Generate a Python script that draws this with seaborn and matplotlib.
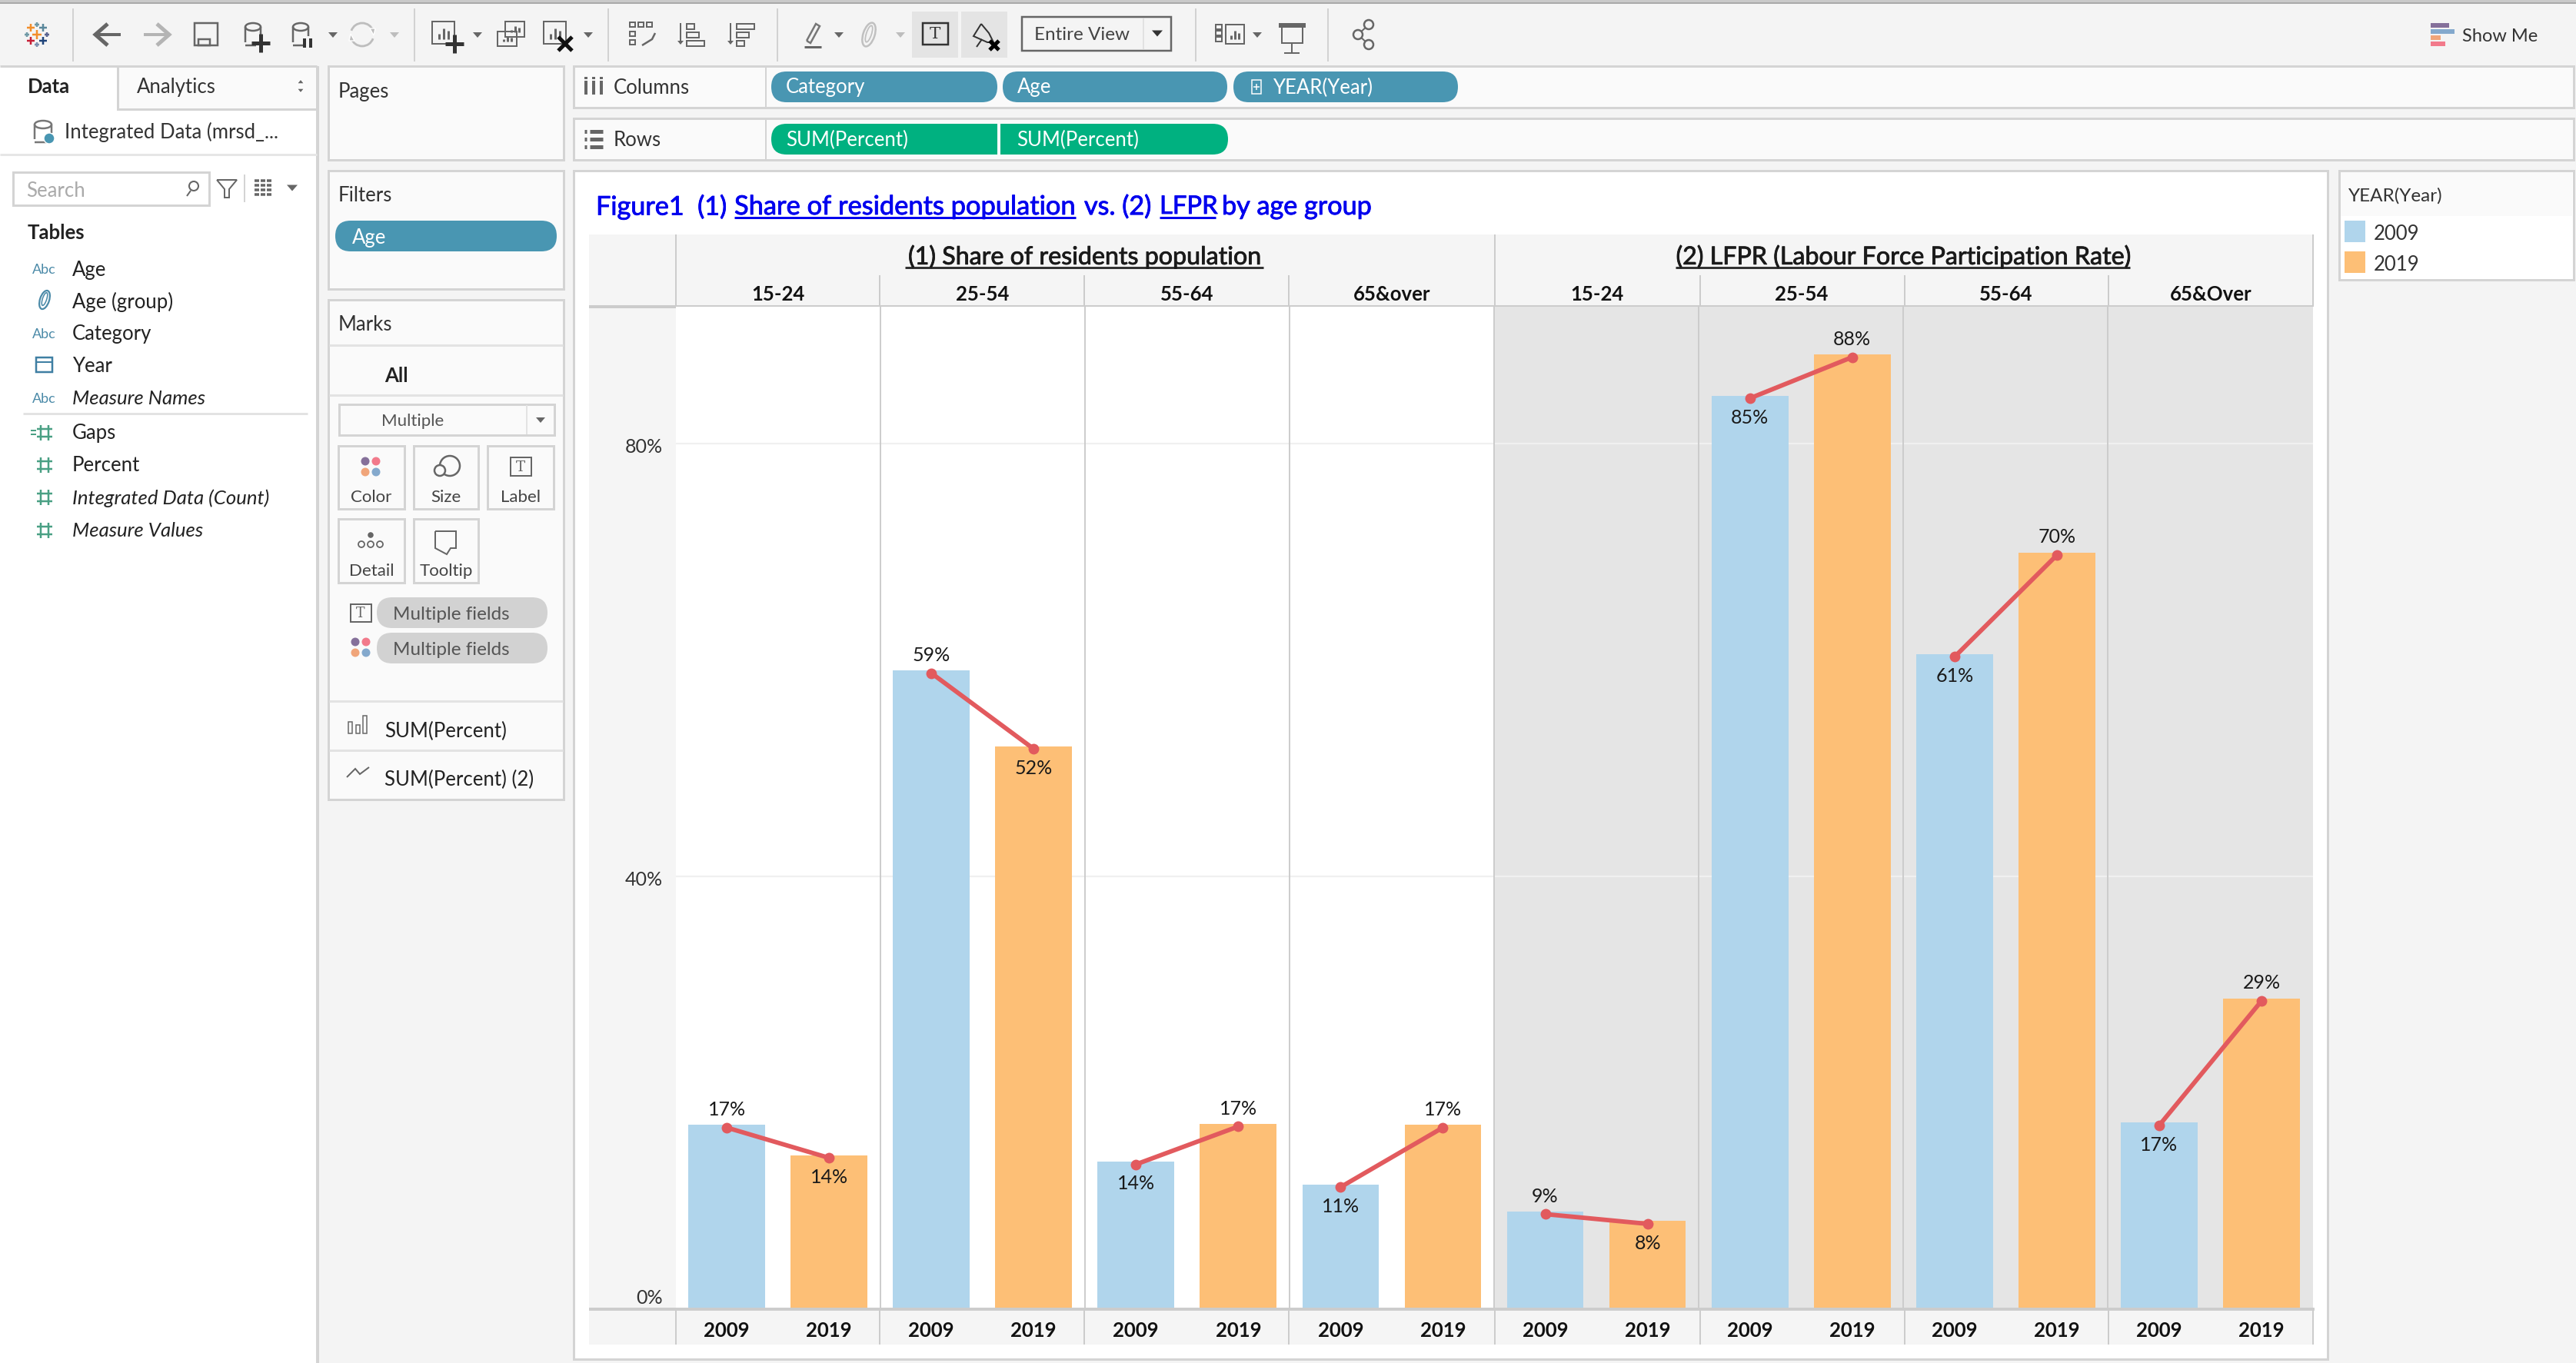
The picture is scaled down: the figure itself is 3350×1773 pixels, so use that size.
import pandas as pd
import matplotlib
matplotlib.use("Agg")
import matplotlib.pyplot as plt
import matplotlib.patheffects as pe
import seaborn as sns
from matplotlib.patches import Rectangle, FancyBboxPatch, Circle, Ellipse, Polygon, Arc
from matplotlib.transforms import ScaledTranslation

# Data
CATEGORIES = ["(1) Share of residents population", "(2) LFPR (Labour Force Participation Rate)"]
AGES_LEFT = ["15-24", "25-54", "55-64", "65&over"]
AGES_RIGHT = ["15-24", "25-54", "55-64", "65&Over"]
YEARS = ["2009", "2019"]
VALUES_2009 = [17.0, 59.0, 13.6, 11.5, 9.0, 84.4, 60.5, 17.2]
VALUES_2019 = [14.2, 52.0, 17.1, 17.0, 8.1, 88.2, 69.9, 28.7]
LABELS_2009 = ["17%", "59%", "14%", "11%", "9%", "85%", "61%", "17%"]
LABELS_2019 = ["14%", "52%", "17%", "17%", "8%", "88%", "70%", "29%"]
Y_TICKS = [0, 40, 80]
Y_TICK_LABELS = ["0%", "40%", "80%"]

FIELDS_TOP = ["Age", "Age (group)", "Category", "Year", "Measure Names"]
FIELDS_BOTTOM = ["Gaps", "Percent", "Integrated Data (Count)", "Measure Values"]

BLUE = "#b0d5ec"
ORANGE = "#fdbf76"
RED = "#e25a5e"
TEAL = "#4996b2"
GREEN = "#00b180"
BORDER = "#d4d4d4"
PANEL = "#fafafa"
TOOLBAR = "#f4f4f4"
ICON = "#666666"
LINK = "#0000ee"
FONT = "Lato"

sns.set_theme(style="white")
plt.rcParams["font.family"] = [FONT, "DejaVu Sans"]

W, H = 3350, 1774
RIGHT = 3347
fig = plt.figure(figsize=(W / 100, H / 100), dpi=100, facecolor=TOOLBAR)

# pixel canvas for the surrounding Tableau window
bg = fig.add_axes([0, 0, 1, 1], zorder=0)
bg.set_xlim(0, W)
bg.set_ylim(H, 0)
bg.axis("off")


def rect(x0, y0, x1, y1, fc="none", ec="none", lw=0, z=1):
    bg.add_patch(Rectangle((x0, y0), x1 - x0, y1 - y0, fc=fc, ec=ec, lw=lw * 0.72, zorder=z))


def line(xs, ys, color=ICON, lw=3, z=3):
    bg.plot(xs, ys, color=color, lw=lw * 0.72, zorder=z, solid_capstyle="butt", solid_joinstyle="miter")


def label(x, y, s, size=18.5, color="#333333", ha="left", **kw):
    return bg.text(x, y + 2, s, fontsize=size, color=color, ha=ha, va="center", zorder=5, **kw)


def heavy_label(x, y, s, size, color, ha="left"):
    t = label(x, y, s, size=size, color=color, ha=ha)
    t.set_path_effects([pe.withStroke(linewidth=0.6, foreground=color)])


def pill(x0, y0, x1, y1, color, r=20):
    bg.add_patch(FancyBboxPatch((x0, y0), x1 - x0, y1 - y0, boxstyle=f"round,pad=0,rounding_size={r}",
                                fc=color, ec="none", zorder=2))


def arrow_down(x, y, color=ICON, s=6):
    bg.add_patch(Polygon([(x - s, y - s / 2), (x + s, y - s / 2), (x, y + s / 2 + 1)], fc=color, ec="none", zorder=3))


def plus(x, y, s, color, lw=3):
    line([x - s, x + s], [y, y], color, lw)
    line([x, x], [y - s, y + s], color, lw)


def cross(x, y, s, color="#111111", lw=5):
    line([x - s, x + s], [y - s, y + s], color, lw, 4)
    line([x - s, x + s], [y + s, y - s], color, lw, 4)


def dots(x, y, r=5.5, gap=7):
    for dx, dy, c in [(-gap, -gap, "#85709a"), (gap, -gap, "#f27a8b"), (-gap, gap, "#f0a57a"), (gap, gap, "#84a9cd")]:
        bg.add_patch(Circle((x + dx, y + dy), r, fc=c, ec="none", zorder=3))


def hash_icon(x, y):
    for d in (-5, 5):
        line([x + d, x + d], [y - 10, y + 10], "#4aa084", 2.5)
        line([x - 10, x + 10], [y + d, y + d], "#4aa084", 2.5)


def t_box(x, y, w, h, color=ICON, lw=2):
    rect(x - w / 2, y - h / 2, x + w / 2, y + h / 2, ec=color, lw=lw, z=3)
    bg.text(x, y, "T", fontsize=h * 0.55, color=color, family="DejaVu Serif", ha="center", va="center", zorder=4)


def database(x0, x1, y0, y1, color=ICON):
    line([x0, x0], [y0 + 5, y1 - 4], color, 2.5)
    line([x1, x1], [y0 + 5, y1 - 12], color, 2.5)
    bg.add_patch(Ellipse(((x0 + x1) / 2, y0 + 5), x1 - x0, 10, fc="none", ec=color, lw=1.8, zorder=3))
    line([x0, x1 - 6], [y1, y1], color, 2.5)


def mini_bars(x0, y0, x1, y1, color=ICON):
    rect(x0, y0, x1, y1, ec=color, lw=2, z=3)
    for dx, top in [(0.3, 0.55), (0.5, 0.3), (0.72, 0.42)]:
        line([x0 + dx * (x1 - x0)] * 2, [y1 - 6, y0 + top * (y1 - y0)], color, 3)


def paperclip(x, y, w, h, color, lw=1.8):
    bg.add_patch(Ellipse((x, y), w, h, angle=18, fc="none", ec=color, lw=lw, zorder=3))
    bg.add_patch(Ellipse((x, y - 1), w * 0.45, h * 0.7, angle=18, fc="none", ec=color, lw=lw * 0.7, zorder=3))


# ---- toolbar ----
rect(0, 0, W, 4, fc="#c9c9c9")
rect(0, 4, W, 6, fc="#a9a9a9")
for sx in [95, 539, 791, 1011, 1555, 1727]:
    line([sx, sx], [12, 81], "#d2d2d2", 2)

logo = [(48, 46, 6, "#f28e2b"), (40, 37, 5, "#f28e2b"), (56, 37, 5, "#59879b"), (40, 54, 5, "#c72037"),
        (56, 54, 5, "#1f447a"), (48, 33, 3, "#7099a6"), (48, 59, 3, "#7c8fb0"), (35, 46, 3, "#7099a6"), (61, 46, 3, "#5b6591")]
for lx, ly, ls, lc in logo:
    plus(lx, ly, ls, lc, 2.5)

line([140, 124, 140], [32, 46, 60], ICON, 5)
line([124, 157], [46, 46], ICON, 4)
line([204, 220, 204], [32, 46, 60], "#b4b4b4", 5)
line([187, 220], [46, 46], "#b4b4b4", 4)
rect(253, 31, 283, 60, ec=ICON, lw=2.5, z=3)
rect(258, 52, 273, 60, ec=ICON, lw=2.5, z=3)
database(319, 339, 31, 60)
plus(339, 57, 12, "#333333", 5)
database(381, 401, 31, 60)
line([396, 396], [51, 63], "#333333", 4)
line([404, 404], [51, 63], "#333333", 4)
arrow_down(433, 46)
bg.add_patch(Arc((471, 46), 30, 30, theta1=200, theta2=340, ec="#bdbdbd", lw=2, zorder=3))
bg.add_patch(Arc((471, 46), 30, 30, theta1=20, theta2=160, ec="#bdbdbd", lw=2, zorder=3))
bg.add_patch(Polygon([(481, 38), (488, 38), (486, 47)], fc="#bdbdbd", zorder=3))
bg.add_patch(Polygon([(454, 54), (461, 54), (456, 45)], fc="#bdbdbd", zorder=3))
arrow_down(513, 46, "#bdbdbd")

mini_bars(562, 29, 591, 58)
plus(591, 58, 12, "#333333", 5)
arrow_down(621, 46)
mini_bars(657, 29, 682, 49)
mini_bars(647, 42, 672, 61)
mini_bars(707, 29, 736, 58)
cross(735, 58, 9)
arrow_down(765, 46)
for gx, gy in [(822, 33), (833, 33), (844, 33), (822, 45), (822, 56)]:
    rect(gx - 3, gy - 3, gx + 4, gy + 3, ec=ICON, lw=2, z=3)
line([852, 848, 835], [44, 52, 60], ICON, 2.5)
for ox, widths in [(893, [10, 16, 23]), (958, [23, 16, 10])]:
    line([ox - 8, ox - 8], [31, 58], ICON, 2)
    arrow_down(ox - 8, 56, ICON, 4)
    for i, bar_w in enumerate(widths):
        rect(ox, 32 + i * 11, ox + bar_w, 39 + i * 11, ec=ICON, lw=2, z=3)
line([1049, 1061, 1066, 1054, 1049], [54, 32, 35, 57, 54], "#777777", 2.5)
line([1046, 1068], [62, 62], ICON, 3)
arrow_down(1091, 46)
paperclip(1130, 46, 15, 32, "#c0c0c0")
arrow_down(1171, 46, "#bdbdbd")
rect(1186, 16, 1246, 76, fc="#e4e4e4")
rect(1250, 16, 1310, 76, fc="#e4e4e4")
t_box(1216, 45, 33, 28, "#333333", 2.5)
line([1276, 1286, 1292, 1284, 1266, 1276], [32, 44, 56, 56, 48, 32], "#333333", 2)
line([1270, 1277], [62, 52], "#333333", 2)
cross(1293, 60, 6, "#000000", 5)
rect(1329, 23, 1523, 67, fc=TOOLBAR, ec=ICON, lw=2.5, z=2)
line([1487, 1487], [25, 65], "#dddddd", 1.5)
label(1345, 43, "Entire View", size=17.5, color="#444444")
arrow_down(1505, 44, "#333333", 7)
for fy in (36, 44, 52):
    rect(1581, fy - 3, 1589, fy + 3, ec=ICON, lw=2, z=3)
mini_bars(1594, 33, 1618, 58)
arrow_down(1635, 46)
line([1663, 1698], [34, 34], ICON, 6)
rect(1667, 34, 1694, 57, ec=ICON, lw=2, z=3)
line([1680, 1680], [57, 70], ICON, 2)
line([1670, 1690], [70, 70], ICON, 2)
for px_, py_ in [(1766, 46), (1780, 33), (1780, 59)]:
    bg.add_patch(Circle((px_, py_), 6, fc=TOOLBAR, ec=ICON, lw=1.8, zorder=4))
line([1780, 1766, 1780], [33, 46, 59], ICON, 2)
for sy, sw, sc in [(31, 24, "#85709a"), (39, 31, "#84a9cd"), (47, 13, "#f0a57a"), (55, 19, "#f27a8b")]:
    rect(3161, sy, 3161 + sw, sy + 6, fc=sc)
label(3202, 46, "Show Me", size=17, color="#333333")

# ---- data pane ----
rect(0, 87, 412, H, fc="white")
line([413, 413], [87, H], BORDER, 4)
rect(153, 87, 412, 143, fc=PANEL)
line([153, 153, 412], [87, 143, 143], BORDER, 3)
line([0, 412], [87, 87], BORDER, 3)
label(36, 111, "Data", weight="bold", color="#222222")
label(178, 112, "Analytics")
bg.add_patch(Polygon([(386, 110), (396, 110), (391, 104)], fc=ICON, zorder=3))
bg.add_patch(Polygon([(386, 116), (396, 116), (391, 122)], fc=ICON, zorder=3))
database(45, 67, 158, 186, "#777777")
bg.add_patch(Circle((64, 181), 7, fc=TEAL, zorder=4))
label(84, 170, "Integrated Data (mrsd_...")
line([0, 412], [202, 202], "#e6e6e6", 3)
rect(17, 225, 272, 268, fc="white", ec=BORDER, lw=3)
label(34, 246, "Search", color="#aaaaaa")
bg.add_patch(Circle((252, 243), 6, fc="none", ec=ICON, lw=1.5, zorder=3))
line([248, 243], [249, 256], ICON, 2)
line([282, 308, 298, 298, 292, 292, 282], [235, 235, 247, 258, 258, 247, 235], ICON, 2)
line([318, 318], [228, 264], BORDER, 2)
for gy in (236, 242, 248, 254):
    for gx in (331, 339, 347):
        line([gx, gx + 6], [gy, gy], ICON, 3.5)
arrow_down(380, 245, ICON, 7)
label(36, 301, "Tables", weight="bold", color="#222222")

field_y = [349, 391, 433, 475, 517]
for fy, name in zip(field_y, FIELDS_TOP):
    label(94, fy, name, style="italic" if name == "Measure Names" else "normal", color="#222222")
for fy in (349, 433, 517):
    label(57, fy, "Abc", size=13, color="#4b8aa8", ha="center")
paperclip(58, 391, 12, 25, "#4b8aa8", 1.6)
rect(47, 466, 68, 485, ec="#3f7fa3", lw=2.5, z=3)
line([47, 68], [472, 472], "#3f7fa3", 2)
line([30, 400], [539, 539], "#e3e3e3", 3)
field_y2 = [563, 605, 647, 690]
for fy, name in zip(field_y2, FIELDS_BOTTOM):
    label(94, fy - 1, name, style="italic" if name in FIELDS_BOTTOM[2:] else "normal", color="#222222")
    hash_icon(58, fy + 1)
line([40, 47], [561, 561], "#4aa084", 2)
line([40, 47], [566, 566], "#4aa084", 2)

# ---- pages, filters, marks cards ----
for y0, y1 in [(87, 209), (223, 377), (391, 1041)]:
    rect(427, y0, 733, y1, fc=PANEL, ec=BORDER, lw=3)
label(440, 118, "Pages")
label(440, 253, "Filters")
pill(436, 288, 724, 328, TEAL)
label(458, 308, "Age", color="white")
label(440, 421, "Marks")
for sy in (450, 515, 913, 977):
    line([428, 732], [sy, sy], "#e3e3e3", 3)
label(515, 487, "All", weight="bold", ha="center", color="#222222")
rect(441, 527, 721, 567, fc=PANEL, ec=BORDER, lw=3, z=2)
line([685, 685], [528, 566], "#e3e3e3", 2)
label(537, 546, "Multiple", size=16, color="#555555", ha="center")
arrow_down(703, 547, ICON, 6)
for bx0, bx1, by0, by1, name in [(440, 526, 581, 663, "Color"), (538, 622, 581, 663, "Size"), (634, 720, 581, 663, "Label"),
                                 (440, 526, 676, 759, "Detail"), (538, 622, 676, 759, "Tooltip")]:
    rect(bx0, by0, bx1, by1, ec=BORDER, lw=3, z=2)
    label((bx0 + bx1) / 2, by1 - 18, name, size=16, color="#444444", ha="center")
dots(482, 608)
bg.add_patch(Circle((585, 607), 13, fc="none", ec=ICON, lw=1.8, zorder=3))
bg.add_patch(Circle((572, 613), 7, fc=PANEL, ec=ICON, lw=1.8, zorder=4))
t_box(677, 608, 27, 24)
bg.add_patch(Circle((482, 697), 4.5, fc=ICON, zorder=3))
for dx in (-12, 0, 12):
    bg.add_patch(Circle((482 + dx, 709), 4, fc="none", ec=ICON, lw=1.3, zorder=3))
line([566, 593, 593, 586, 581, 566, 566], [692, 692, 714, 714, 722, 714, 692], ICON, 2)
t_box(469, 798, 27, 23)
dots(469, 843, 5.5, 7)
pill(490, 778, 712, 818, "#d2d2d2")
pill(490, 824, 712, 864, "#d2d2d2")
label(511, 798, "Multiple fields", size=17.5, color="#555555")
label(511, 844, "Multiple fields", size=17.5, color="#555555")
for bx, top in [(455, 940), (465, 944), (474, 932)]:
    rect(bx - 2.5, top, bx + 2.5, 955, ec=ICON, lw=1.5, z=3)
line([451, 462, 468, 480], [1012, 1001, 1008, 999], ICON, 2)
label(500, 949, "SUM(Percent)", color="#222222")
label(500, 1012, "SUM(Percent) (2)", color="#222222")

# ---- shelves ----
for y0, y1, name in [(87, 141, "Columns"), (155, 209, "Rows")]:
    rect(746, y0, RIGHT, y1, fc=PANEL, ec=BORDER, lw=3)
    line([996, 996], [y0, y1], BORDER, 2)
    label(798, (y0 + y1) / 2 - 1, name)
for dx in (762, 772, 782):
    line([dx, dx], [106, 124], ICON, 4)
    line([dx, dx], [101, 104], ICON, 4)
for ry in (172, 182, 192):
    line([760, 763], [ry, ry], ICON, 5)
    line([767, 784], [ry, ry], ICON, 5)
for px0, px1, name in [(1003, 1297, "Category"), (1304, 1596, "Age"), (1604, 1896, "YEAR(Year)")]:
    pill(px0, 94, px1, 134, TEAL)
    label(1655 if name.startswith("YEAR") else px0 + 19, 112, name, color="white")
rect(1628, 105, 1640, 123, ec="white", lw=1.5, z=3)
plus(1634, 114, 4, "white", 1.5)
pill(1003, 162, 1320, 202, GREEN)
pill(1280, 162, 1597, 202, GREEN)
rect(1297, 160, 1301, 204, fc=PANEL, z=3)
label(1022, 180, "SUM(Percent)", color="white")
label(1322, 180, "SUM(Percent)", color="white")

# ---- chart card, title and header rows ----
rect(746, 223, 3027, 1769, fc="white", ec=BORDER, lw=3)
heavy_label(775, 268, "Figure1  (1)", 24.6, LINK)
heavy_label(955, 268, "Share of residents population", 24.8, LINK)
heavy_label(1410, 268, "vs. (2)", 24.6, LINK)
heavy_label(1508, 268, "LFPR", 23.6, LINK)
heavy_label(1589, 268, "by age group", 24.6, LINK)
line([955, 1399], [284, 284], LINK, 3)
line([1508, 1581], [284, 284], LINK, 3)

rect(766, 306, 3008, 400, fc="#f5f5f5")
rect(766, 400, 879, 1750, fc="#f5f5f5")
rect(879, 1706, 3008, 1750, fc="#f5f5f5")
for i, name in enumerate(CATEGORIES):
    cx = 1411 if i == 0 else 2476
    heavy_label(cx, 333, name, 23.2, "#1a1a1a", ha="center")
line([1177, 1643], [349, 349], "#333333", 3)
line([2179, 2770], [349, 349], "#333333", 3)
for i, name in enumerate(AGES_LEFT + AGES_RIGHT):
    label(1011.5 + i * 266.1 + (1 if i >= 4 else 0), 381, name, size=18.5, weight="bold", ha="center", color="#111111")
for hx in (879, 1944, 3008):
    line([hx, hx], [306, 400], "#cccccc", 2)
for hx in (1144, 1410, 1676, 2211, 2477, 2742):
    line([hx, hx], [359, 400], "#cccccc", 2)
for hx in (879, 1144, 1410, 1676, 1944, 2211, 2477, 2742, 3008):
    line([hx, hx], [1706, 1750], "#cccccc", 2)
line([766, 3008], [400, 400], "#cccccc", 4)
line([766, 879], [1704, 1704], "#cccccc", 4)

# ---- legend card ----
rect(3042, 223, RIGHT, 365, fc="white", ec=BORDER, lw=3)
rect(3044, 225, RIGHT - 2, 282, fc=PANEL)
label(3054, 253, "YEAR(Year)", size=17.5)
for sw_y, yr, col in [(288, YEARS[0], BLUE), (328, YEARS[1], ORANGE)]:
    rect(3049, sw_y, 3076, sw_y + 28, fc=col)
    label(3087, sw_y + 15, yr, size=18.5)

# ---- the chart itself ----
rows = []
pos = 0
for panel, (v09, v19, l09, l19) in enumerate(zip(VALUES_2009, VALUES_2019, LABELS_2009, LABELS_2019)):
    for year, value, text, other in [(YEARS[0], v09, l09, v19), (YEARS[1], v19, l19, v09)]:
        rows.append({"key": f"{panel}-{year}", "pos": pos, "panel": panel, "year": year,
                     "percent": value, "text": text, "above": value > other})
        pos += 1
df = pd.DataFrame(rows)

rect_ax = [878.5 / W, (H - 1703.5) / H, (3007.5 - 878.5) / W, (1703.5 - 400) / H]
Y_MAX = (1703.5 - 400) / 14.075

ax = fig.add_axes(rect_ax, zorder=1)
ax.axvspan(7.5, 15.5, color="#e5e5e5", lw=0, zorder=0)
sns.barplot(data=df, x="key", y="percent", hue="year", palette=[BLUE, ORANGE], dodge=False,
            width=0.75, saturation=1, legend=False, linewidth=0, edgecolor="none", ax=ax)
ax.set_xlim(-0.5, 15.5)
ax.set_ylim(0, Y_MAX)
ax.set_xlabel("")
ax.set_ylabel("")
ax.set_axisbelow(True)
ax.grid(axis="y", color="#f0f0f0", lw=1.6)
ax.grid(axis="x", visible=False)
for b in range(1, 8):
    ax.axvline(b * 2 - 0.5, color="#cccccc", lw=1.4, zorder=0.8)
ax.set_yticks(Y_TICKS)
ax.set_yticklabels(Y_TICK_LABELS)
ax.set_xticks(range(len(df)))
ax.set_xticklabels(df["year"], fontweight="bold", fontsize=18.5, color="#111111")
ax.tick_params(axis="x", length=0, pad=11.5)
ax.tick_params(axis="y", length=0, pad=12, labelsize=18, labelcolor="#333333")
for tick_label in ax.get_yticklabels():
    shift = 12 / 72 if tick_label.get_text() == "0%" else -1.5 / 72
    tick_label.set_transform(tick_label.get_transform() + ScaledTranslation(0, shift, fig.dpi_scale_trans))
for name, spine in ax.spines.items():
    spine.set_visible(name == "bottom")
ax.spines["bottom"].set_color("#cccccc")
ax.spines["bottom"].set_linewidth(2.8)

# line layer sits a touch below the bar tops, like the dual axis in the workbook
ax_line = fig.add_axes(rect_ax, zorder=2, facecolor="none")
sns.lineplot(data=df, x="pos", y="percent", units="panel", estimator=None, color=RED, lw=4.2,
             marker="o", markersize=10, markeredgewidth=0, legend=False, ax=ax_line)
ax_line.set_xlim(-0.5, 15.5)
ax_line.set_ylim(0.25, Y_MAX + 0.25)
ax_line.axis("off")
for _, r in df.iterrows():
    ax_line.annotate(r["text"], (r["pos"], r["percent"]), xytext=(0, 17.5 if r["above"] else -17.5),
                     textcoords="offset points", ha="center", va="center", fontsize=18, color="#1a1a1a")

fig.savefig("out.png", dpi=100)
